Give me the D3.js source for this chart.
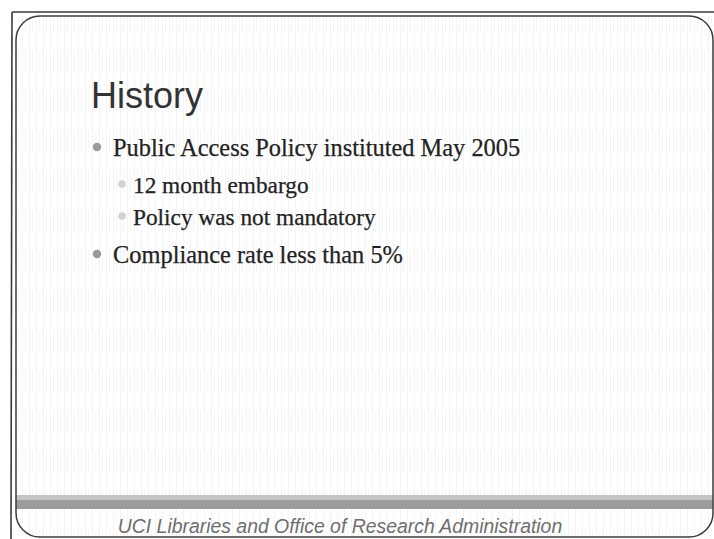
<!DOCTYPE html>
<html>
<head>
<meta charset="utf-8">
<script src="https://cdn.jsdelivr.net/npm/d3@7"></script>
<style>
  html, body { margin: 0; padding: 0; background: #fff; }
  svg { display: block; }
</style>
</head>
<body>
<svg id="slide"></svg>
<script>
// slide content
var titleText = "History";
var bulletTexts = [
  "Public Access Policy instituted May 2005",
  "12 month embargo",
  "Policy was not mandatory",
  "Compliance rate less than 5%"
];
var bulletLevels = [0, 1, 1, 0];
var footerText = "UCI Libraries and Office of Research Administration";

var width = 714;
var height = 539;

var svg = d3.select("#slide")
  .attr("width", width)
  .attr("height", height);

// faint scanned paper texture (vertical streaks)
var defs = svg.append("defs");
var pat = defs.append("pattern")
  .attr("id", "streaks")
  .attr("width", 7)
  .attr("height", 40)
  .attr("patternUnits", "userSpaceOnUse");
pat.append("rect").attr("x", 1).attr("y", 0).attr("width", 1).attr("height", 40)
  .attr("fill", "#000").attr("opacity", 0.045);
pat.append("rect").attr("x", 4).attr("y", 10).attr("width", 1).attr("height", 22)
  .attr("fill", "#000").attr("opacity", 0.035);

var box = { left: 16, top: 16, right: 713, bottom: 537, r: 24 };

svg.append("rect")
  .attr("x", box.left).attr("y", box.top)
  .attr("width", box.right - box.left)
  .attr("height", box.bottom - box.top)
  .attr("fill", "url(#streaks)");

// outer frame lines
svg.append("line")
  .attr("x1", 12).attr("y1", 12).attr("x2", width).attr("y2", 12)
  .attr("stroke", "#3a3a3a").attr("stroke-width", 1.6);
svg.append("line")
  .attr("x1", 12).attr("y1", 12).attr("x2", 11).attr("y2", height)
  .attr("stroke", "#3a3a3a").attr("stroke-width", 1.6);

// grey footer band
svg.append("rect")
  .attr("x", box.left).attr("y", 495)
  .attr("width", box.right - box.left).attr("height", 5)
  .attr("fill", "#c4c4c4");
svg.append("rect")
  .attr("x", box.left).attr("y", 500)
  .attr("width", box.right - box.left).attr("height", 9)
  .attr("fill", "#9c9c9c");

// rounded inner border
svg.append("rect")
  .attr("x", box.left).attr("y", box.top)
  .attr("width", box.right - box.left)
  .attr("height", box.bottom - box.top)
  .attr("rx", box.r).attr("ry", box.r)
  .attr("fill", "none")
  .attr("stroke", "#3c3c3c")
  .attr("stroke-width", 1.5);

// title
svg.append("text")
  .attr("x", 91)
  .attr("y", 108)
  .attr("font-family", "Liberation Sans, Arial, sans-serif")
  .attr("font-size", 36)
  .attr("fill", "#333")
  .text(titleText);

// bullets
var textX = [113, 133];
var dotX = [97, 122];
var dotR = [4.2, 3.8];
var dotFill = ["#9a9a9a", "#d0d0d0"];
var fontSize = [24.4, 23.3];
var baselines = [156, 193, 225, 263];

var items = svg.append("g").selectAll("g.item")
  .data(bulletTexts)
  .enter().append("g")
  .attr("class", "item")
  .attr("transform", function(d, i) { return "translate(0," + baselines[i] + ")"; });

items.append("circle")
  .attr("cx", function(d, i) { return dotX[bulletLevels[i]]; })
  .attr("cy", -9)
  .attr("r", function(d, i) { return dotR[bulletLevels[i]]; })
  .attr("fill", function(d, i) { return dotFill[bulletLevels[i]]; });

items.append("text")
  .attr("x", function(d, i) { return textX[bulletLevels[i]]; })
  .attr("y", 0)
  .attr("font-family", "Liberation Serif, Times New Roman, serif")
  .attr("font-size", function(d, i) { return fontSize[bulletLevels[i]]; })
  .attr("fill", "#222")
  .attr("stroke", "#222")
  .attr("stroke-width", 0.25)
  .text(function(d) { return d; });

// footer
svg.append("text")
  .attr("x", 340)
  .attr("y", 533)
  .attr("text-anchor", "middle")
  .attr("font-family", "Liberation Sans, Arial, sans-serif")
  .attr("font-style", "italic")
  .attr("font-size", 19.4)
  .attr("fill", "#6e6e6e")
  .text(footerText);
</script>
</body>
</html>
